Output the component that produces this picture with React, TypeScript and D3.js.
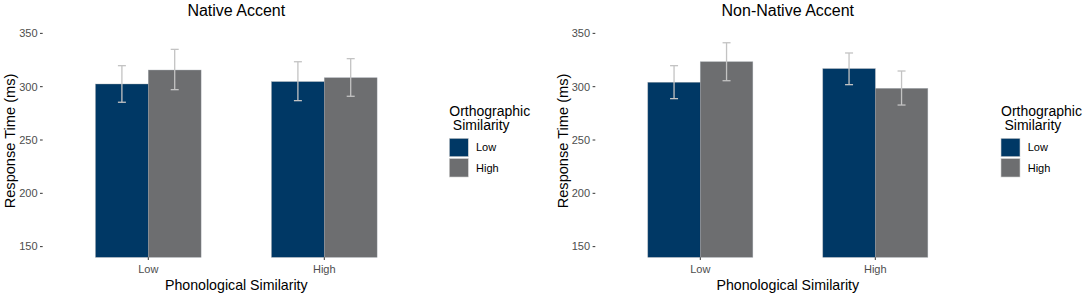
import React from "react";
import * as d3 from "d3";

const panels = ["Native Accent", "Non-Native Accent"];
const phonCategories = ["Low", "High"];
const orthoLevels = ["Low", "High"];
const yTicks = [150, 200, 250, 300, 350];

// mean, lower, upper per [phon][ortho]
const nativeMeans = [[302.5, 315.6], [304.7, 308.4]];
const nativeLower = [[285.4, 297.2], [286.9, 291.0]];
const nativeUpper = [[319.7, 335.0], [323.4, 326.3]];
const nonNativeMeans = [[304.1, 323.4], [316.9, 298.4]];
const nonNativeLower = [[288.8, 305.6], [301.9, 282.8]];
const nonNativeUpper = [[319.7, 341.2], [331.6, 314.7]];

const colors = ["#003865", "#6D6E70"];

const W = 1084;
const H = 293;
const panelTop = 22.7;
const panelBottom = 257.3;
const FONT = "'Liberation Sans', Arial, sans-serif";

const panelDefs = [
  { left: 42.7, right: 429.9, means: nativeMeans, lower: nativeLower, upper: nativeUpper, legendX: 449.3 },
  { left: 595.3, right: 980.3, means: nonNativeMeans, lower: nonNativeLower, upper: nonNativeUpper, legendX: 1001 },
];

function Panel({ idx }: { idx: number }) {
  const p = panelDefs[idx];
  const y = d3.scaleLinear().domain([140, 360]).range([panelBottom, panelTop]);
  // discrete axis: categories at 1..n, expanded by 0.6 on each side
  const xc = d3.scaleLinear().domain([0.4, phonCategories.length + 0.6]).range([p.left, p.right]);
  const barW = 0.3;
  const cx = (p.left + p.right) / 2;
  return (
    <g>
      <text x={cx} y={15.5} textAnchor="middle" fontSize={16} fill="#000" fontFamily={FONT}>
        {panels[idx]}
      </text>
      {yTicks.map((t) => (
        <g key={t}>
          <line x1={p.left - 2.7} x2={p.left} y1={y(t)} y2={y(t)} stroke="#333" strokeWidth={1} />
          <text x={p.left - 5.2} y={y(t)} dy="0.35em" textAnchor="end" fontSize={11} fill="#4D4D4D" fontFamily={FONT}>
            {t}
          </text>
        </g>
      ))}
      {phonCategories.map((c, i) => (
        <g key={c}>
          {orthoLevels.map((o, j) => {
            const x0 = xc(i + 1 - barW + j * barW);
            const x1 = xc(i + 1 + j * barW);
            const m = p.means[i][j];
            return (
              <rect
                key={o}
                x={x0}
                width={x1 - x0}
                y={y(m)}
                height={y(140) - y(m)}
                fill={colors[j]}
                stroke="#9aa0a6"
                strokeOpacity={0.6}
                strokeWidth={0.6}
              />
            );
          })}
          {orthoLevels.map((o, j) => {
            const xm = xc(i + 1 - barW / 2 + j * barW);
            const lo = y(p.lower[i][j]);
            const hi = y(p.upper[i][j]);
            return (
              <g key={"e" + o} stroke="#C3C3C3" strokeWidth={1.3}>
                <line x1={xm} x2={xm} y1={lo} y2={hi} />
                <line x1={xm - 4} x2={xm + 4} y1={lo} y2={lo} />
                <line x1={xm - 4} x2={xm + 4} y1={hi} y2={hi} />
              </g>
            );
          })}
          <line x1={xc(i + 1)} x2={xc(i + 1)} y1={panelBottom} y2={panelBottom + 2.7} stroke="#333" strokeWidth={1} />
          <text x={xc(i + 1)} y={272.5} textAnchor="middle" fontSize={11} fill="#4D4D4D" fontFamily={FONT}>
            {c}
          </text>
        </g>
      ))}
      <text x={cx} y={290} textAnchor="middle" fontSize={14.2} fill="#000" fontFamily={FONT}>
        Phonological Similarity
      </text>
      <text
        transform={`translate(${p.left - 27.7},${(panelTop + panelBottom) / 2 + 1}) rotate(-90)`}
        textAnchor="middle"
        fontSize={14.6}
        fill="#000"
        fontFamily={FONT}
      >
        Response Time (ms)
      </text>
      <g>
        <text x={p.legendX} y={115.5} fontSize={14} fill="#000" fontFamily={FONT}>
          Orthographic
        </text>
        <text x={p.legendX + 3.5} y={130} fontSize={14} fill="#000" fontFamily={FONT}>
          Similarity
        </text>
        {orthoLevels.map((o, j) => (
          <g key={o}>
            <rect
              x={p.legendX}
              y={138.3 + j * 20.3}
              width={19}
              height={18.4}
              fill={colors[j]}
              stroke="#d0d0d0"
              strokeWidth={0.6}
            />
            <text x={p.legendX + 26.7} y={138.3 + j * 20.3 + 9.2} dy="0.35em" fontSize={11} fill="#000" fontFamily={FONT}>
              {o}
            </text>
          </g>
        ))}
      </g>
    </g>
  );
}

export default function App() {
  return (
    <svg width={W} height={H} style={{ position: "absolute", left: 0, top: 0, background: "#fff" }}>
      <rect width={W} height={H} fill="#fff" />
      <Panel idx={0} />
      <Panel idx={1} />
    </svg>
  );
}
